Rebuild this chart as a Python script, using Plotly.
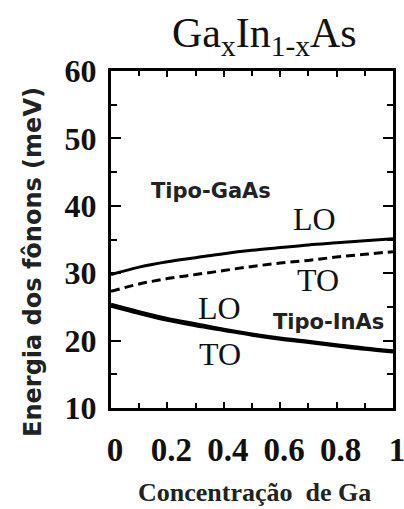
import plotly.graph_objects as go

# Data
x_ga = [0.0, 0.1, 0.2, 0.3, 0.4, 0.5, 0.6, 0.7, 0.8, 0.9, 1.0]
lo_gaas = [29.8, 30.9, 31.7, 32.3, 32.9, 33.4, 33.8, 34.2, 34.5, 34.8, 35.1]
to_gaas = [27.3, 28.4, 29.2, 29.8, 30.4, 31.0, 31.5, 31.9, 32.4, 32.8, 33.2]
lo_inas = [25.4, 24.3, 23.3, 22.5, 21.7, 21.0, 20.4, 19.9, 19.4, 18.9, 18.5]
to_inas = [25.1, 24.0, 23.0, 22.2, 21.5, 20.8, 20.2, 19.7, 19.2, 18.7, 18.3]

x_ticks = [0, 0.2, 0.4, 0.6, 0.8, 1]
x_tick_labels = ["0", "0.2", "0.4", "0.6", "0.8", "1"]
y_ticks = [10, 20, 30, 40, 50, 60]

labels = [
    ("Tipo-GaAs", 0.355, 42.2, "sans"),
    ("LO", 0.723, 38.0, "serif"),
    ("TO", 0.734, 29.0, "serif"),
    ("LO", 0.386, 24.8, "serif"),
    ("Tipo-InAs", 0.773, 22.8, "sans"),
    ("TO", 0.386, 18.0, "serif"),
]

fig = go.Figure()
line_w = 3
fig.add_trace(go.Scatter(x=x_ga, y=lo_gaas, mode="lines", line=dict(color="black", width=line_w, shape="spline")))
fig.add_trace(go.Scatter(x=x_ga, y=to_gaas, mode="lines", line=dict(color="black", width=line_w, dash="9px,5px", shape="spline")))
fig.add_trace(go.Scatter(x=x_ga, y=lo_inas, mode="lines", line=dict(color="black", width=line_w, shape="spline")))
fig.add_trace(go.Scatter(x=x_ga, y=to_inas, mode="lines", line=dict(color="black", width=line_w, shape="spline")))

for text, xx, yy, kind in labels:
    if kind == "sans":
        font = dict(family="DejaVu Sans", size=21, color="#222")
        text = "<b>" + text + "</b>"
    else:
        font = dict(family="Liberation Serif", size=32, color="#111")
    fig.add_annotation(x=xx, y=yy, xref="x", yref="y", text=text, showarrow=False,
                       font=font, xanchor="center", yanchor="middle")

# Title
fig.add_annotation(x=0.545, y=1.105, xref="paper", yref="paper",
                   text="Ga<sub>x</sub>In<sub>1-x</sub>As", showarrow=False,
                   font=dict(family="Liberation Serif", size=42, color="#111"),
                   xanchor="center", yanchor="middle")
# Axis titles
fig.add_annotation(x=0.51, y=-0.252, xref="paper", yref="paper",
                   text="<b>Concentração  de Ga</b>", showarrow=False,
                   font=dict(family="Liberation Serif", size=26, color="#222"),
                   xanchor="center", yanchor="middle")
fig.add_annotation(x=-0.277, y=0.433, xref="paper", yref="paper",
                   text="<b>Energia dos fônons (meV)</b>", showarrow=False, textangle=-90,
                   font=dict(family="DejaVu Sans", size=24, color="#222"),
                   xanchor="center", yanchor="middle")

fig.update_xaxes(range=[0, 1], tickvals=x_ticks, ticktext=["<b>%s</b>" % t for t in x_tick_labels],
                 showgrid=False, zeroline=False, showline=True, linewidth=3, linecolor="black",
                 mirror="allticks", ticks="inside", ticklen=6, tickwidth=2, tickcolor="black",
                 minor=dict(dtick=0.1, tick0=0, ticks="inside", ticklen=5, tickwidth=2, tickcolor="black"),
                 tickfont=dict(family="Liberation Serif", size=33, color="#111"),
                 ticklabelstandoff=10, ticklabelshift=4, ticklabeloverflow="allow",
                 automargin=False)
fig.update_yaxes(range=[10, 60], tickvals=y_ticks, ticktext=["<b>%d</b>" % v for v in y_ticks],
                 showgrid=False, zeroline=False, showline=True, linewidth=3, linecolor="black",
                 mirror="allticks", ticks="inside", ticklen=10, tickwidth=2, tickcolor="black",
                 minor=dict(dtick=5, tick0=0, ticks="inside", ticklen=6, tickwidth=2, tickcolor="black"),
                 tickfont=dict(family="Liberation Serif", size=32, color="#111"),
                 ticklabelstandoff=5, ticklabeloverflow="allow", automargin=False)

fig.update_layout(width=404, height=509, showlegend=False,
                  margin=dict(l=111, r=11, t=71, b=101),
                  plot_bgcolor="white", paper_bgcolor="white")

fig.write_html("out.html")
